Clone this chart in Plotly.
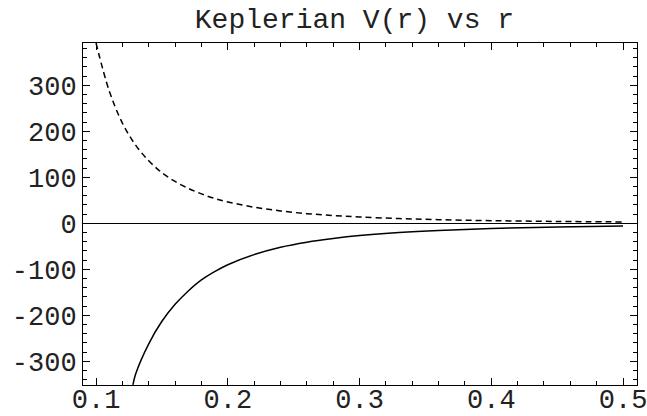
import plotly.graph_objects as go

# Values
r_solid = [0.128, 0.13, 0.14, 0.15, 0.16, 0.17, 0.18, 0.19, 0.20, 0.22, 0.24, 0.26,
           0.28, 0.30, 0.33, 0.36, 0.40, 0.45, 0.50]
v_solid = [-351, -328, -262, -213, -176, -147, -123, -105, -90, -68, -52, -41,
           -33, -26.7, -20, -15.4, -11.3, -7.9, -5.8]

r_dashed = [0.10, 0.11, 0.12, 0.13, 0.14, 0.15, 0.16, 0.17, 0.18, 0.19, 0.20, 0.22,
            0.24, 0.26, 0.28, 0.30, 0.33, 0.36, 0.40, 0.45, 0.50]
v_dashed = [392, 288, 218, 170, 136, 110, 91, 76, 64, 54, 46.5, 35,
            27, 21, 17, 13.7, 10.3, 7.9, 5.8, 4.1, 3.0]

x_ticks = [0.1, 0.2, 0.3, 0.4, 0.5]
y_ticks = [-300, -200, -100, 0, 100, 200, 300]

FONT = "Courier New, Liberation Mono, monospace"

fig = go.Figure()
fig.add_trace(go.Scatter(x=r_dashed, y=v_dashed, mode="lines",
                         line=dict(color="black", width=1.5, dash="6px,4px", shape="spline"),
                         showlegend=False))
fig.add_trace(go.Scatter(x=r_solid, y=v_solid, mode="lines",
                         line=dict(color="black", width=1.5, shape="spline"),
                         showlegend=False))

axis_common = dict(
    showline=True, linecolor="black", linewidth=1, mirror="ticks",
    ticks="inside", ticklen=7, tickwidth=1, tickcolor="black",
    showgrid=False, ticklabeloverflow="allow", automargin=False,
    tickfont=dict(family=FONT, size=27, color="#222"),
)

fig.update_xaxes(range=[0.0901, 0.5106], tickvals=x_ticks,
                 ticktext=[f"{v:.1f}" for v in x_ticks],
                 zeroline=False, ticklabelstandoff=-10,
                 minor=dict(ticks="inside", ticklen=4, tickcolor="black", dtick=0.02, tick0=0.1),
                 **axis_common)
fig.update_yaxes(range=[-351.5, 392], tickvals=y_ticks,
                 ticktext=[str(v) for v in y_ticks],
                 zeroline=True, zerolinecolor="black", zerolinewidth=1.2,
                 ticklabelstandoff=0,
                 minor=dict(ticks="inside", ticklen=4, tickcolor="black", dtick=20, tick0=0),
                 **axis_common)

fig.update_layout(
    width=647, height=416,
    margin=dict(l=83, r=10, t=43, b=31, autoexpand=False),
    paper_bgcolor="white", plot_bgcolor="white",
    title=dict(text="Keplerian V(r) vs r", font=dict(family=FONT, size=28, color="#222"),
               x=0.49, xref="paper", xanchor="center",
               y=1 - 18 / 416, yref="container", yanchor="middle"),
)

fig.write_html("out.html",
               config={"displayModeBar": False},
               post_script="document.body.style.margin='0px';document.body.style.overflow='hidden';")
